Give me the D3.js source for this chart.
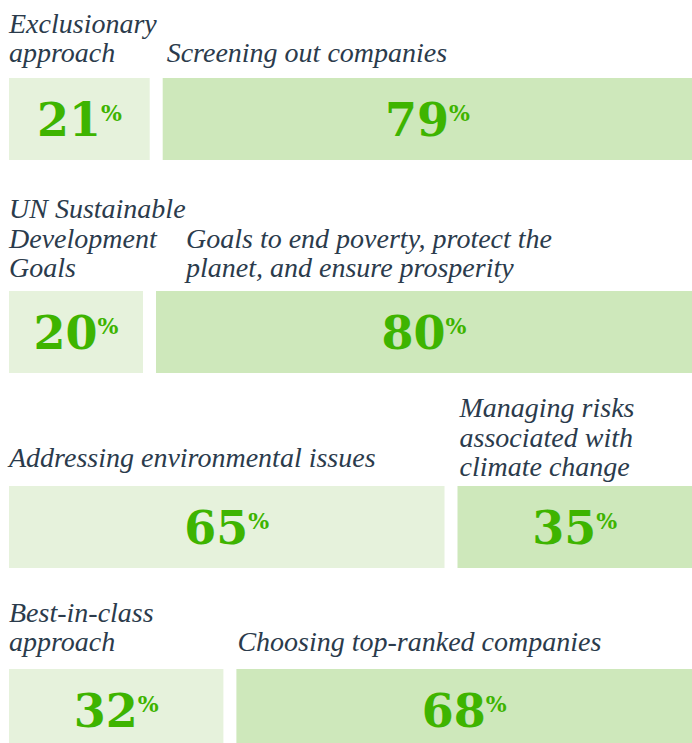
<!DOCTYPE html>
<meta charset="utf-8">
<style>

body {
  margin: 0;
  background: #fff;
}

.label {
  font-family: "Liberation Serif", serif;
  font-style: italic;
  font-size: 28px;
  fill: #2b3b4c;
}

.num {
  font-family: "DejaVu Serif", serif;
  font-weight: bold;
  fill: #3eb400;
}

</style>
<body>
<script src="https://cdn.jsdelivr.net/npm/d3@7"></script>
<script>

// data
var leftLabels = [
  ["Exclusionary", "approach"],
  ["UN Sustainable", "Development", "Goals"],
  ["Addressing environmental issues"],
  ["Best-in-class", "approach"]
];
var rightLabels = [
  ["Screening out companies"],
  ["Goals to end poverty, protect the", "planet, and ensure prosperity"],
  ["Managing risks", "associated with", "climate change"],
  ["Choosing top-ranked companies"]
];
var leftValues = [21, 20, 65, 32];
var rightValues = [79, 80, 35, 68];

// layout
var w = 692,
    h = 743,
    left = 9,
    gap = 13,
    barH = 82,
    lineH = 29.5,
    rowTop = [78, 291, 486, 669],
    leftBase = [-16, -14, -19, -18],   // last label baseline relative to bar top
    rightBase = [-16, -14, -10, -18],
    rightDx = [4, 30, 2, 1];

var x = d3.scaleLinear()
    .domain([0, 100])
    .range([0, w - left - gap]);

var svg = d3.select("body").append("svg")
    .attr("width", w)
    .attr("height", h);

var rows = d3.range(leftValues.length).map(function(i) {
  var lw = x(leftValues[i]);
  return [
    {x0: left, x1: left + lw, y: rowTop[i], v: leftValues[i], lines: leftLabels[i],
     base: leftBase[i], dx: 0, fill: "#e6f2dc"},
    {x0: left + lw + gap, x1: left + lw + gap + x(rightValues[i]), y: rowTop[i], v: rightValues[i],
     lines: rightLabels[i], base: rightBase[i], dx: rightDx[i], fill: "#cee8bb"}
  ];
});

var seg = svg.selectAll("g.seg")
    .data(d3.merge(rows))
  .enter().append("g")
    .attr("class", "seg");

seg.append("rect")
    .attr("x", function(d) { return d.x0; })
    .attr("y", function(d) { return d.y; })
    .attr("width", function(d) { return d.x1 - d.x0; })
    .attr("height", barH)
    .style("fill", function(d) { return d.fill; });

seg.each(function(d) {
  var g = d3.select(this);
  var n = d.lines.length;
  g.selectAll("text.label")
      .data(d.lines)
    .enter().append("text")
      .attr("class", "label")
      .attr("x", d.x0 + d.dx)
      .attr("y", function(l, j) { return d.y + d.base - (n - 1 - j) * lineH; })
      .text(function(l) { return l; });

  var t = g.append("text")
      .attr("class", "num")
      .attr("x", (d.x0 + d.x1) / 2)
      .attr("y", d.y + 58)
      .attr("text-anchor", "middle");
  t.append("tspan")
      .style("font-size", "46px")
      .text(d.v);
  t.append("tspan")
      .style("font-size", "22px")
      .attr("dy", -15)
      .text("%");
});

</script>
